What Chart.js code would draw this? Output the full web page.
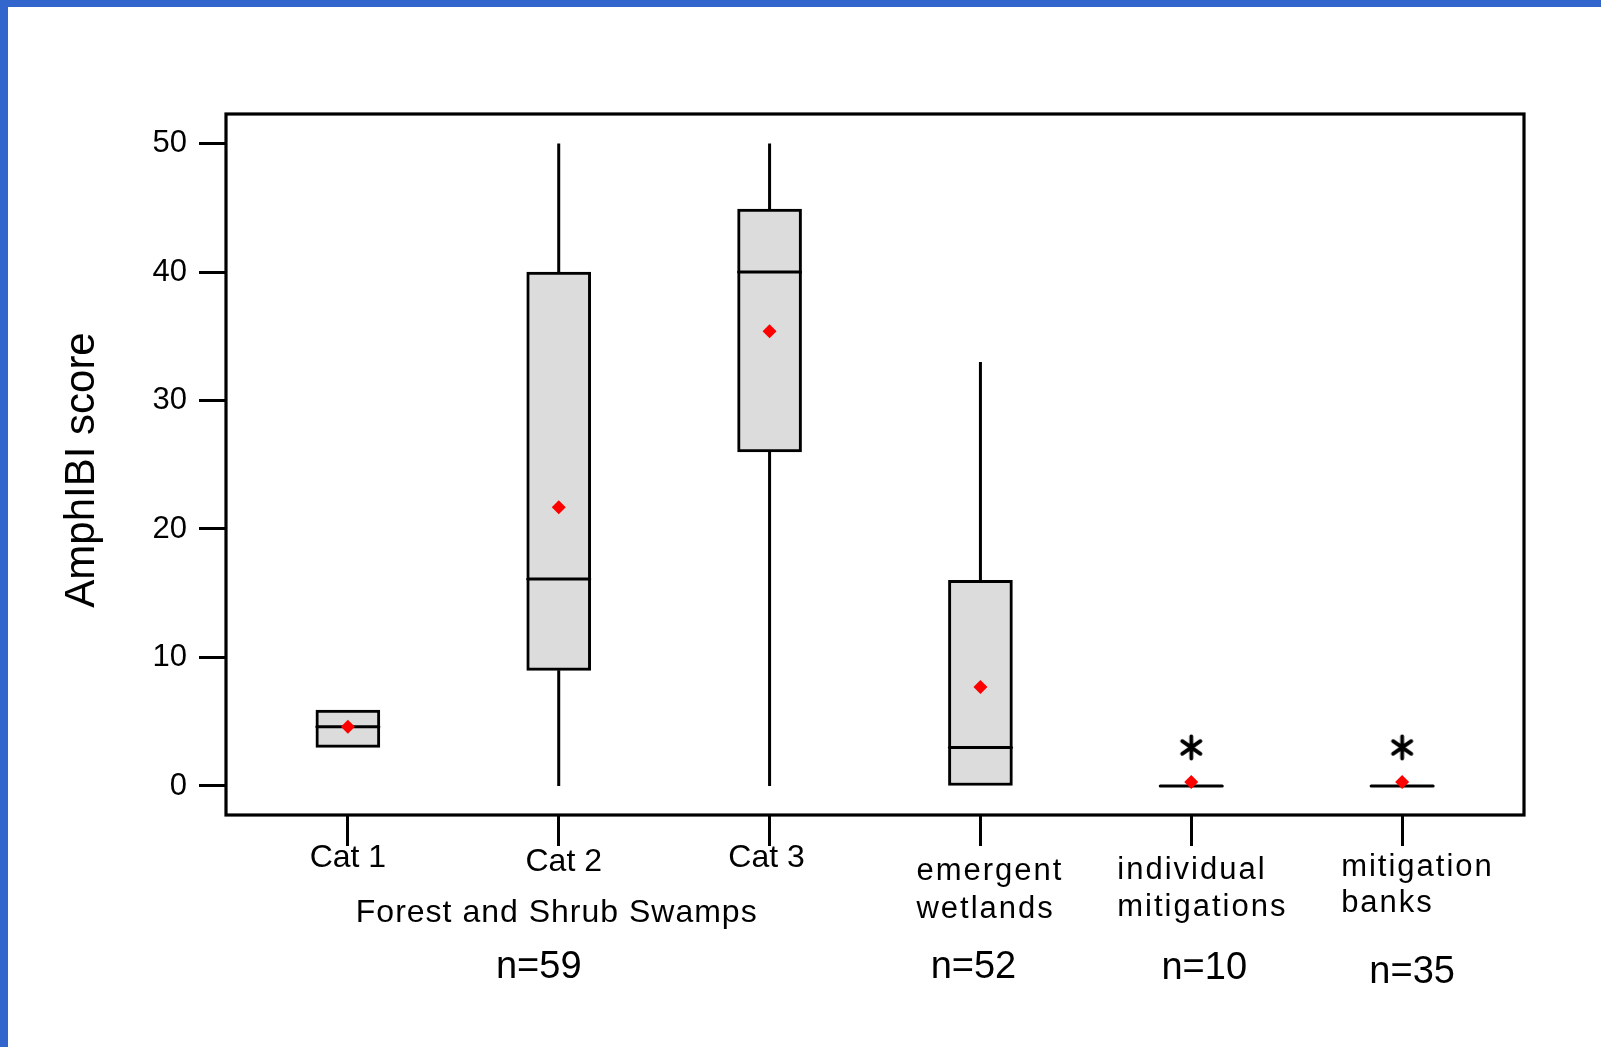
<!DOCTYPE html>
<html>
<head>
<meta charset="utf-8">
<script src="https://cdn.jsdelivr.net/npm/chart.js@4.4.1/dist/chart.umd.min.js"></script>
<style>
  html, body { margin: 0; padding: 0; background: #fff; overflow: hidden; }
  #wrap { position: absolute; left: 0; top: 0; width: 1601px; height: 1047px; }
  .edge { position: absolute; background: #3366cc; z-index: 2; }
  #edgeTop { left: 0; top: 0; width: 1601px; height: 7px; }
  #edgeLeft { left: 0; top: 0; width: 8px; height: 1047px; }
</style>
</head>
<body>
<div id="edgeTop" class="edge"></div>
<div id="edgeLeft" class="edge"></div>
<div id="wrap"><canvas id="amphibi_box"></canvas></div>
<script>
// category labels (one entry per line of text)
const CATEGORIES = [["Cat 1"], ["Cat 2"], ["Cat 3"], ["emergent", "wetlands"], ["individual", "mitigations"], ["mitigation", "banks"]];
const GROUP_LABEL = "Forest and Shrub Swamps";
const N_LABELS = ["n=59", "n=52", "n=10", "n=35"];

// box plot values
const WHISKER_LOW  = [3,   0,    0,    0,  0,   0];
const Q1           = [3,   9,    26,   0,  0,   0];
const MEDIAN       = [4.6, 16.1, 40,   3,  0,   0];
const Q3           = [5.9, 40,   44.9, 16, 0,   0];
const WHISKER_HIGH = [5.9, 50,   50,   33, 0,   0];
const MEANS        = [4.6, 21.7, 35.4, 7.7, 0.3, 0.3];
const OUTLIERS     = [[], [], [], [], [3], [3]];

const Y_TICKS = [0, 10, 20, 30, 40, 50];
const Y_TITLE = "AmphIBI score";

const FONT = 'Arial, "Liberation Sans", sans-serif';

function makeAsterisk(size, lw) {
  const c = document.createElement("canvas");
  c.width = c.height = size;
  const g = c.getContext("2d");
  g.strokeStyle = "#000";
  g.lineWidth = lw;
  g.lineCap = "round";
  const m = size / 2, r = size / 2 - lw / 2 - 0.5;
  g.beginPath();
  [90, 35, 145].forEach((deg) => {
    const a = deg * Math.PI / 180;
    g.moveTo(m - r * Math.cos(a), m - r * Math.sin(a));
    g.lineTo(m + r * Math.cos(a), m + r * Math.sin(a));
  });
  g.stroke();
  return c;
}

function drawText(ctx, text, x, y, size, align, spacing) {
  ctx.font = `${size}px ${FONT}`;
  ctx.textAlign = align;
  ctx.textBaseline = "alphabetic";
  ctx.letterSpacing = spacing || "0px";
  ctx.fillText(text, x, y);
}

// whiskers, medians, frame and the text under the axis
const boxPlotExtras = {
  id: "boxPlotExtras",
  beforeDatasetsDraw(chart) {
    const { ctx, scales: { x, y } } = chart;
    ctx.save();
    ctx.strokeStyle = "#000";
    ctx.lineWidth = 3;
    CATEGORIES.forEach((_, i) => {
      const px = x.getPixelForValue(i);
      ctx.beginPath();
      ctx.moveTo(px, y.getPixelForValue(WHISKER_LOW[i]));
      ctx.lineTo(px, y.getPixelForValue(Q1[i]));
      ctx.moveTo(px, y.getPixelForValue(Q3[i]));
      ctx.lineTo(px, y.getPixelForValue(WHISKER_HIGH[i]));
      ctx.stroke();
    });
    ctx.restore();
  },
  afterDatasetDraw(chart, args) {
    if (args.meta.type !== "bar") return;
    const { ctx, scales: { y } } = chart;
    ctx.save();
    ctx.strokeStyle = "#000";
    ctx.lineWidth = 3;
    ctx.lineCap = "round";
    args.meta.data.forEach((bar, i) => {
      const py = y.getPixelForValue(MEDIAN[i]);
      ctx.beginPath();
      ctx.moveTo(bar.x - bar.width / 2 + 1, py);
      ctx.lineTo(bar.x + bar.width / 2 - 1, py);
      ctx.stroke();
    });
    ctx.restore();
  },
  afterDraw(chart) {
    const { ctx, chartArea: a, scales: { x } } = chart;
    ctx.save();
    ctx.strokeStyle = "#000";
    ctx.lineWidth = 3.2;
    ctx.strokeRect(a.left, a.top, a.right - a.left, a.bottom - a.top);

    ctx.fillStyle = "#000";
    const px = (i) => x.getPixelForValue(i);

    // category labels
    drawText(ctx, CATEGORIES[0][0], px(0), 867, 32, "center");
    drawText(ctx, CATEGORIES[1][0], px(1) + 5, 871, 32, "center");
    drawText(ctx, CATEGORIES[2][0], px(2) - 3, 867, 32, "center");
    drawText(ctx, CATEGORIES[3][0], px(3) - 64, 880, 31, "left", "2px");
    drawText(ctx, CATEGORIES[3][1], px(3) - 64, 918, 31, "left", "2px");
    drawText(ctx, CATEGORIES[4][0], px(4) - 74, 879, 31, "left", "2px");
    drawText(ctx, CATEGORIES[4][1], px(4) - 74, 916, 31, "left", "2px");
    drawText(ctx, CATEGORIES[5][0], px(5) - 61, 876, 31, "left", "2px");
    drawText(ctx, CATEGORIES[5][1], px(5) - 61, 912, 31, "left", "2px");

    drawText(ctx, GROUP_LABEL, px(1) - 2, 922, 32, "center", "1px");

    drawText(ctx, N_LABELS[0], px(1) - 20, 978, 38, "center");
    drawText(ctx, N_LABELS[1], px(3) - 7, 978, 38, "center");
    drawText(ctx, N_LABELS[2], px(4) + 13, 979, 38, "center");
    drawText(ctx, N_LABELS[3], px(5) + 10, 983, 38, "center");

    // y axis title
    ctx.translate(94, 470);
    ctx.rotate(-Math.PI / 2);
    drawText(ctx, Y_TITLE, 0, 0, 42, "center");
    ctx.restore();
  },
};

const ctx = document.getElementById("amphibi_box").getContext("2d");

new Chart(ctx, {
  type: "bar",
  data: {
    datasets: [
      {
        type: "scatter",
        label: "Mean",
        data: MEANS.map((v, i) => ({ x: i, y: v })),
        pointStyle: "rectRot",
        pointRadius: 7,
        backgroundColor: "#ff0000",
        borderWidth: 0,
        order: 0,
        clip: false,
      },
      {
        type: "scatter",
        label: "Outliers",
        data: OUTLIERS.flatMap((arr, i) => arr.map((v) => ({ x: i, y: v }))),
        pointStyle: makeAsterisk(27, 3.8),
        pointRadius: 13,
        order: 1,
        clip: false,
      },
      {
        type: "bar",
        label: "IQR",
        data: Q1.map((v, i) => ({ x: i, y: [v, Q3[i]] })),
        backgroundColor: "#dcdcdc",
        borderColor: "#000",
        borderWidth: 3,
        borderSkipped: false,
        barThickness: 64,
        order: 2,
      },
    ],
  },
  options: {
    responsive: true,
    maintainAspectRatio: false,
    animation: false,
    events: [],
    layout: { padding: { left: 0, top: 114, right: 77, bottom: 0 } },
    plugins: {
      legend: { display: false },
      tooltip: { enabled: false },
    },
    scales: {
      x: {
        type: "linear",
        offset: false,
        min: -0.578,
        max: 5.578,
        afterBuildTicks: (scale) => { scale.ticks = CATEGORIES.map((_, i) => ({ value: i })); },
        afterFit: (scale) => { scale.height = 232; },
        border: { display: false },
        grid: { offset: false, drawOnChartArea: false, drawTicks: true, tickLength: 31, tickWidth: 3, tickColor: "#000" },
        ticks: { display: false },
      },
      y: {
        min: -2.26,
        max: 52.3,
        afterBuildTicks: (scale) => { scale.ticks = Y_TICKS.map((v) => ({ value: v })); },
        afterFit: (scale) => { scale.width = 226; },
        border: { display: false },
        grid: { drawOnChartArea: false, drawTicks: true, tickLength: 27, tickWidth: 3, tickColor: "#000" },
        ticks: { color: "#000", padding: 12, font: { family: FONT, size: 31 } },
      },
    },
  },
  plugins: [boxPlotExtras],
});
</script>
</body>
</html>
